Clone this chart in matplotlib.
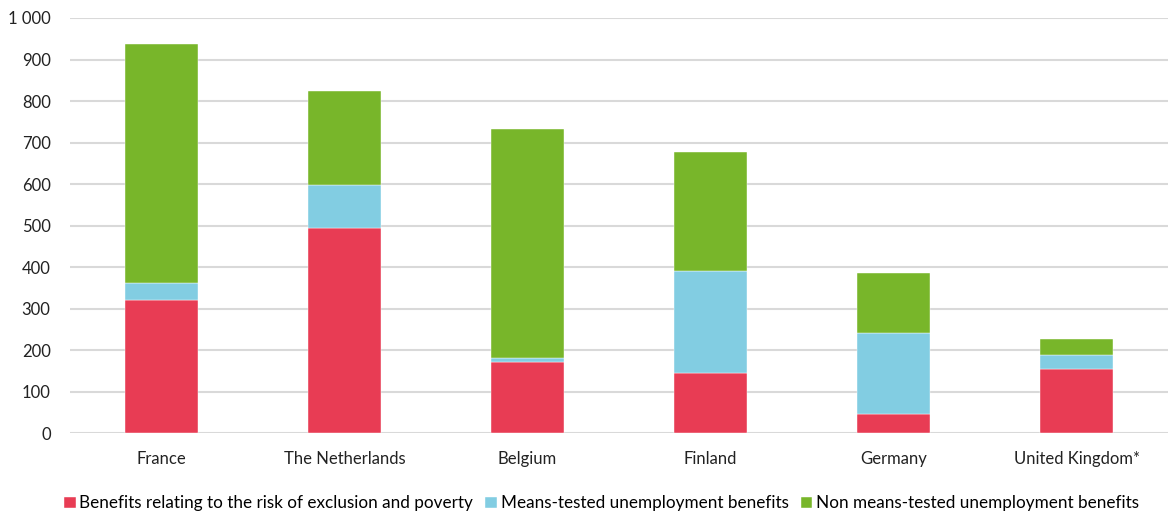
import matplotlib.pyplot as plt
import numpy as np

countries = ["France", "The Netherlands", "Belgium", "Finland", "Germany", "United Kingdom*"]
poverty = [320, 494, 171, 145, 46, 154]
means_tested = [41, 103, 10, 245, 195, 34]
non_means_tested = [576, 227, 552, 287, 145, 38]

labels = ["Benefits relating to the risk of exclusion and poverty",
          "Means-tested unemployment benefits",
          "Non means-tested unemployment benefits"]
colors = ["#E83C54", "#82CDE2", "#78B62A"]

plt.rcParams['font.family'] = ['Lato', 'DejaVu Sans']

fig = plt.figure(figsize=(11.68, 5.14), dpi=100)
ax = fig.add_axes([0.06, 0.157, 0.94, 0.808])

x = np.arange(len(countries))
bottom = np.zeros(len(countries))
for vals, lab, col in zip([poverty, means_tested, non_means_tested], labels, colors):
    ax.bar(x, vals, width=0.4, bottom=bottom, color=col, label=lab, zorder=3,
           edgecolor="white", linewidth=0.3)
    bottom += np.array(vals)

ax.set_xlim(-0.5, len(countries) - 0.5)
ax.set_ylim(0, 1000)
ax.set_yticks(np.arange(0, 1001, 100))
ax.set_yticklabels([f"{v:,}".replace(",", " ") for v in range(0, 1001, 100)])
ax.set_xticks(x)
ax.set_xticklabels(countries)
ax.tick_params(axis="both", length=0, labelsize=12, colors="#222222")
ax.tick_params(axis="x", pad=13)
ax.tick_params(axis="y", pad=14)
ax.grid(axis="y", color="#D9D9D9", linewidth=1.5, zorder=0)
for s in ax.spines.values():
    s.set_visible(False)

fig.legend(loc="lower center", bbox_to_anchor=(0.515, -0.025), ncol=3, frameon=False,
           fontsize=12.3, handlelength=0.7, handleheight=0.7, handletextpad=0.2,
           columnspacing=0.7)

fig.savefig("out.png", dpi=100)
